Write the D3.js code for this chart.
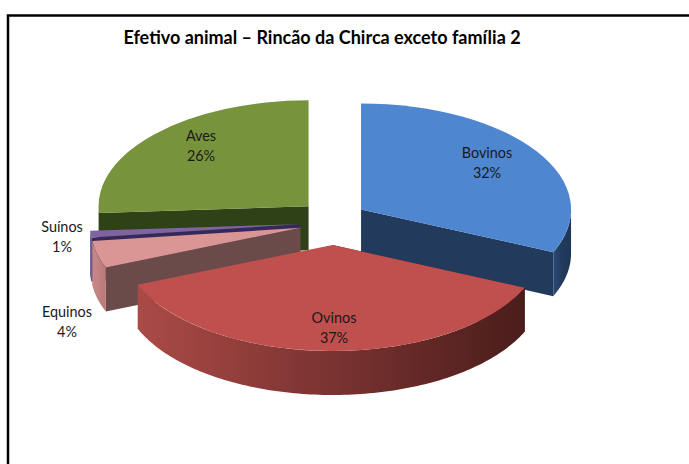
<!DOCTYPE html>
<html>
  <head>
    <meta charset="utf-8">
    <title>Efetivo animal</title>
    <script src="https://cdn.jsdelivr.net/npm/d3@7"></script>
    <style>
      html, body { margin: 0; padding: 0; background: #fff; }
      svg { display: block; }
      text { font-family: Lato, "Open Sans", sans-serif; }
    </style>
  </head>
  <body>
<script>
var categories = ["Bovinos", "Ovinos", "Equinos", "Suínos", "Aves"];
var values = [31.6, 37.3, 4.1, 1.0, 26.0];
var percentLabels = ["32%", "37%", "4%", "1%", "26%"];
var titleText = "Efetivo animal – Rincão da Chirca exceto família 2";

var w = 689, h = 464;
var originX = 333, originY = 222;
var rx = 210, ry = 106, depth = 44;
var explodeX = 33.5, explodeY = 23;

// top face, radial wall, outer wall stops (left to right)
var topColors = ["#4f86d0", "#c0504d", "#d99694", "#8064a2", "#77933c"];
var radialColors = ["#223a5c", "#4a1d1b", "#6b4a4a", "#35285a", "#2f4117"];
var outerColors = [
  ["#2a4a74", "#223a5c", "#1f3554"],
  ["#ab4a47", "#7a3331", "#4a1d1b"],
  ["#c98886", "#c08280", "#b87876"],
  ["#7560a0", "#6a5594", "#5c4a88"],
  ["#3a5018", "#344818", "#2f4117"]
];

// label anchor [centre x, first baseline]
var labelPos = [[487, 158], [334, 323], [67, 317], [62, 232], [201, 141]];

var svg = d3.select("body").append("svg").attr("width", w).attr("height", h);

// frame: only left and top are inside the picture
svg.append("path")
   .attr("d", "M8,464V15.5H689")
   .attr("fill", "none")
   .attr("stroke", "black")
   .attr("stroke-width", 2.5);

svg.append("text")
   .attr("x", 322).attr("y", 44)
   .attr("text-anchor", "middle")
   .attr("font-size", 18)
   .attr("font-weight", "bold")
   .text(titleText);

var pie = d3.pie().sort(null);
var arcs = pie(values);

var xUnit = d3.scaleLinear().domain([-1, 1]).range([-rx, rx]);
var yUnit = d3.scaleLinear().domain([-1, 1]).range([-ry, ry]);

function centre(d) {
  var mid = (d.startAngle + d.endAngle) / 2;
  return [originX + explodeX * Math.sin(mid), originY - explodeY * Math.cos(mid)];
}
function rimPoint(d, a, z) {
  var c = centre(d);
  return [c[0] + xUnit(Math.sin(a)), c[1] - yUnit(Math.cos(a)) + z];
}

var defs = svg.append("defs");
var line = d3.line();
var layerOrder = [4, 0, 3, 2, 1];

layerOrder.forEach(function(i) {
  var d = arcs[i];
  var c = centre(d);
  var g = svg.append("g");

  // radial wall, whichever cut side faces us
  var wallAngle = Math.cos(d.startAngle) < 0 ? d.startAngle : d.endAngle;
  var rim = rimPoint(d, wallAngle, 0);
  g.append("path")
   .attr("d", line([c, rim, [rim[0], rim[1] + depth], [c[0], c[1] + depth]]))
   .attr("fill", radialColors[i]);

  // outer wall, only the part of the rim on the front half
  var from = Math.max(d.startAngle, Math.PI / 2);
  var to = Math.min(d.endAngle, Math.PI * 1.5);
  if (to > from) {
    var angles = d3.range(from, to, 0.02).concat([to]);
    var upper = angles.map(function(a) { return rimPoint(d, a, 0); });
    var lower = angles.map(function(a) { return rimPoint(d, a, depth); }).reverse();
    var gid = "wall" + i;
    var xs = upper.map(function(p) { return p[0]; });
    var grad = defs.append("linearGradient")
      .attr("id", gid)
      .attr("gradientUnits", "userSpaceOnUse")
      .attr("x1", d3.min(xs)).attr("x2", d3.max(xs))
      .attr("y1", 0).attr("y2", 0);
    outerColors[i].forEach(function(col, k) {
      grad.append("stop").attr("offset", k / 2).attr("stop-color", col);
    });
    g.append("path")
     .attr("d", line(upper.concat(lower)) + "Z")
     .attr("fill", "url(#" + gid + ")");
  }

  // top face, circle squashed into an ellipse
  g.append("path")
   .attr("transform", "translate(" + c[0] + "," + c[1] + ") scale(1," + (ry / rx) + ")")
   .attr("d", d3.arc().innerRadius(0).outerRadius(rx)(d))
   .attr("fill", topColors[i]);
});

// labels
labelPos.forEach(function(p, i) {
  var t = svg.append("text")
     .attr("text-anchor", "middle")
     .attr("font-size", 14.4)
     .attr("fill", "#1a1a1a");
  t.append("tspan").attr("x", p[0]).attr("y", p[1]).text(categories[i]);
  t.append("tspan").attr("x", p[0]).attr("y", p[1] + 19.5).text(percentLabels[i]);
});
</script>
  </body>
</html>
